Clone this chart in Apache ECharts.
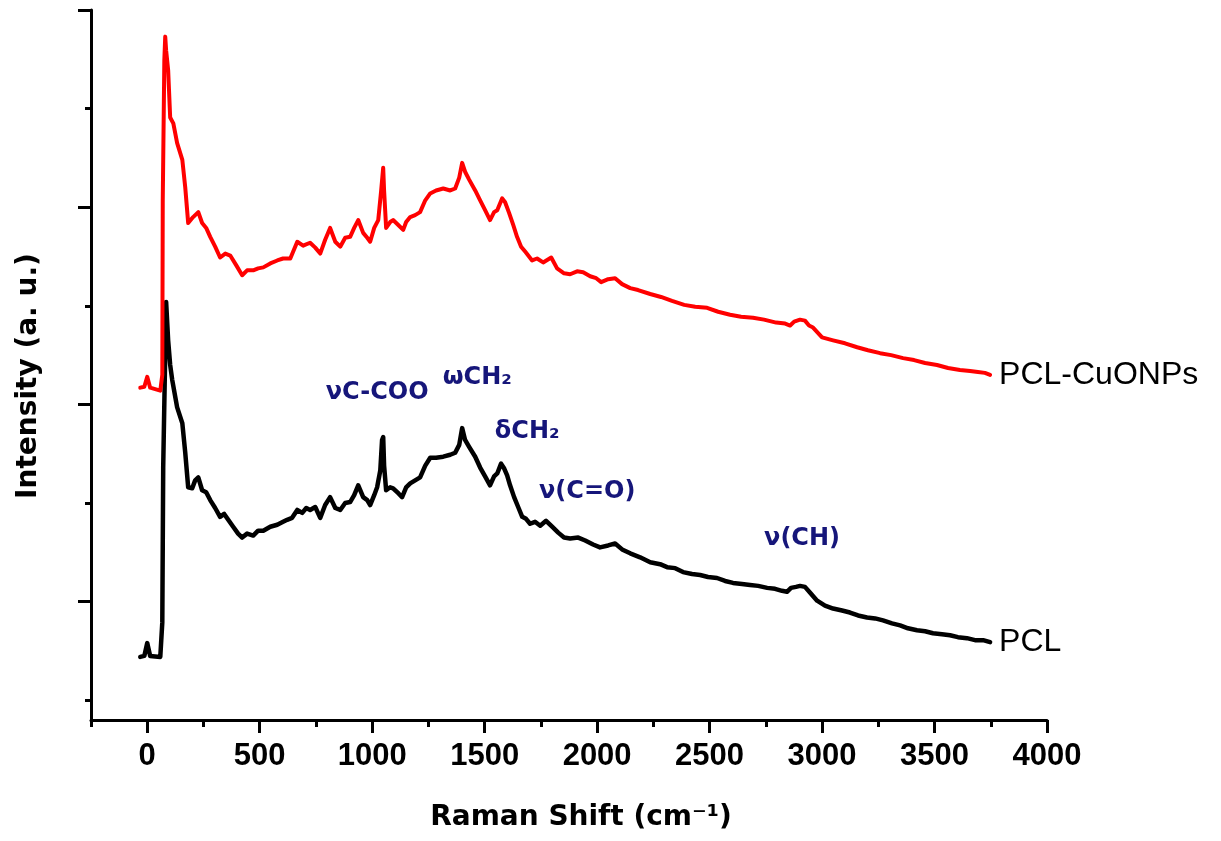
<!DOCTYPE html>
<html>
<head>
<meta charset="utf-8">
<title>Raman spectra PCL / PCL-CuONPs</title>
<script src="https://cdn.jsdelivr.net/npm/echarts@6/dist/echarts.min.js"></script>
<style>
  html, body { margin: 0; padding: 0; background: #fff; }
  #chart { width: 1221px; height: 841px; }
</style>
</head>
<body>
<div id="chart"></div>
<script>
// Raman shift (cm-1) and intensity (a.u., offset)
const pclShift = [-31, -13, 0, 13, 58, 67, 71, 84, 93, 102, 111, 133, 156, 169, 182, 200, 213, 227, 244, 262,
  280, 302, 324, 342, 360, 382, 404, 422, 444, 471, 493, 516, 547, 578, 604, 622, 644, 667, 689, 707,
  724, 747, 769, 791, 813, 836, 858, 880, 902, 920, 938, 960, 978, 991, 1009, 1022, 1036, 1044, 1049, 1053,
  1062, 1080, 1093, 1116, 1133, 1151, 1169, 1191, 1213, 1236, 1258, 1284, 1316, 1347, 1369, 1387, 1400, 1413, 1431, 1458,
  1480, 1502, 1524, 1542, 1556, 1573, 1587, 1600, 1613, 1631, 1649, 1667, 1684, 1702, 1724, 1747, 1773, 1800, 1827, 1853,
  1880, 1916, 1947, 1982, 2013, 2049, 2080, 2111, 2147, 2191, 2236, 2280, 2311, 2347, 2382, 2422, 2458, 2493, 2533, 2569,
  2604, 2644, 2680, 2716, 2756, 2791, 2822, 2844, 2862, 2884, 2902, 2924, 2947, 2978, 3013, 3049, 3089, 3124, 3160, 3200,
  3236, 3271, 3311, 3347, 3382, 3422, 3458, 3493, 3533, 3569, 3604, 3644, 3680, 3716, 3747];
const pclInt = [0.44, 0.45, 0.58, 0.45, 0.44, 0.79, 2.36, 4.04, 3.65, 3.40, 3.25, 2.97, 2.81, 2.51, 2.16, 2.15, 2.23, 2.26, 2.13, 2.11,
  2.03, 1.95, 1.86, 1.89, 1.83, 1.76, 1.69, 1.65, 1.69, 1.67, 1.72, 1.72, 1.76, 1.78, 1.81, 1.83, 1.85, 1.93, 1.90, 1.95,
  1.93, 1.96, 1.85, 1.98, 2.06, 1.95, 1.93, 2.00, 2.01, 2.08, 2.18, 2.06, 2.03, 1.98, 2.08, 2.16, 2.33, 2.64, 2.67, 2.38,
  2.13, 2.16, 2.15, 2.10, 2.06, 2.16, 2.20, 2.23, 2.26, 2.38, 2.46, 2.46, 2.47, 2.49, 2.51, 2.59, 2.76, 2.64, 2.57, 2.47,
  2.36, 2.27, 2.18, 2.27, 2.30, 2.40, 2.35, 2.28, 2.18, 2.06, 1.96, 1.86, 1.84, 1.79, 1.81, 1.77, 1.82, 1.76, 1.70, 1.65,
  1.64, 1.65, 1.62, 1.58, 1.55, 1.57, 1.59, 1.53, 1.49, 1.45, 1.40, 1.38, 1.35, 1.34, 1.30, 1.28, 1.27, 1.25, 1.24, 1.21,
  1.19, 1.18, 1.17, 1.16, 1.14, 1.13, 1.11, 1.10, 1.14, 1.15, 1.16, 1.15, 1.09, 1.01, 0.96, 0.93, 0.91, 0.89, 0.86, 0.84,
  0.83, 0.81, 0.78, 0.76, 0.73, 0.71, 0.70, 0.68, 0.67, 0.66, 0.64, 0.63, 0.61, 0.61, 0.59];

const cuoShift = [-31, -13, 0, 13, 58, 67, 69, 76, 80, 84, 93, 102, 116, 133, 156, 169, 182, 204, 227, 244,
  262, 280, 302, 324, 347, 369, 396, 422, 444, 471, 493, 516, 547, 578, 604, 636, 667, 693, 724, 747,
  769, 791, 813, 836, 858, 880, 902, 920, 938, 960, 978, 991, 1009, 1027, 1040, 1049, 1053, 1062, 1080, 1093,
  1116, 1138, 1151, 1169, 1191, 1213, 1236, 1258, 1284, 1316, 1347, 1369, 1387, 1400, 1413, 1431, 1458, 1480, 1502, 1524,
  1542, 1556, 1578, 1591, 1609, 1627, 1644, 1662, 1680, 1711, 1733, 1760, 1796, 1822, 1853, 1880, 1911, 1938, 1969, 1996,
  2018, 2049, 2080, 2111, 2147, 2182, 2236, 2284, 2333, 2387, 2436, 2489, 2538, 2591, 2640, 2693, 2742, 2796, 2836, 2858,
  2876, 2902, 2924, 2942, 2960, 3000, 3049, 3102, 3156, 3204, 3258, 3307, 3360, 3409, 3458, 3511, 3560, 3613, 3658, 3693,
  3724, 3747];
const cuoInt = [3.17, 3.18, 3.28, 3.17, 3.14, 3.30, 5.07, 6.49, 6.73, 6.59, 6.39, 5.91, 5.85, 5.65, 5.48, 5.20, 4.84, 4.90, 4.95, 4.84,
  4.79, 4.70, 4.60, 4.49, 4.53, 4.51, 4.41, 4.31, 4.36, 4.36, 4.38, 4.39, 4.43, 4.46, 4.48, 4.48, 4.65, 4.61, 4.64, 4.59,
  4.53, 4.67, 4.79, 4.65, 4.60, 4.69, 4.70, 4.79, 4.87, 4.74, 4.69, 4.65, 4.79, 4.87, 5.17, 5.40, 5.17, 4.79, 4.85, 4.87,
  4.82, 4.77, 4.85, 4.90, 4.92, 4.95, 5.07, 5.14, 5.17, 5.19, 5.17, 5.19, 5.30, 5.45, 5.36, 5.28, 5.17, 5.07, 4.97, 4.87,
  4.95, 4.97, 5.09, 5.05, 4.94, 4.82, 4.70, 4.60, 4.55, 4.46, 4.48, 4.44, 4.49, 4.38, 4.33, 4.32, 4.35, 4.34, 4.30, 4.28,
  4.24, 4.27, 4.28, 4.22, 4.18, 4.16, 4.12, 4.09, 4.05, 4.01, 3.99, 3.98, 3.94, 3.91, 3.89, 3.88, 3.86, 3.83, 3.82, 3.80,
  3.84, 3.86, 3.85, 3.80, 3.78, 3.68, 3.65, 3.62, 3.58, 3.55, 3.52, 3.50, 3.47, 3.45, 3.42, 3.40, 3.37, 3.35, 3.34, 3.33,
  3.32, 3.30];

// band assignments written on the plot
const bandText = ['νC-COO', 'ωCH₂', 'δCH₂', 'ν(C=O)', 'ν(CH)'];
const bandShift = [1022, 1467, 1689, 1956, 2911];
const bandInt = [3.12, 3.27, 2.72, 2.11, 1.64];

const xMajor = [0, 500, 1000, 1500, 2000, 2500, 3000, 3500, 4000];
const xMinor = [-250, 250, 750, 1250, 1750, 2250, 2750, 3250, 3750];
const yMajor = [1, 3, 5, 7];
const yMinor = [0, 2, 4, 6];

const zip = (xs, ys) => xs.map((x, i) => [x, ys[i]]);

const chart = echarts.init(document.getElementById('chart'));

const axisLine = { show: true, onZero: false, lineStyle: { color: '#000', width: 3 } };
const titleFont = { fontFamily: 'DejaVu Sans', fontWeight: 'bold', fontSize: 28, color: '#000' };

const option = {
  animation: false,
  backgroundColor: '#fff',
  grid: { left: 91, right: 174, top: 10, bottom: 121 },
  xAxis: [
    {
      type: 'value', min: -250, max: 4000, interval: 250,
      name: 'Raman Shift (cm⁻¹)', nameLocation: 'middle', nameGap: 84,
      nameTextStyle: Object.assign({}, titleFont, { padding: [0, 0, 0, 24] }),
      axisLine: axisLine,
      axisTick: { show: true, customValues: xMajor, length: 13, lineStyle: { color: '#000', width: 3 } },
      axisLabel: {
        customValues: xMajor, margin: 21, color: '#000',
        formatter: v => String(v),
        fontFamily: 'Liberation Sans', fontWeight: 'bold', fontSize: 31
      },
      splitLine: { show: false }
    },
    {
      type: 'value', min: -250, max: 4000, interval: 250, position: 'bottom',
      axisLine: { show: false, onZero: false },
      axisTick: { show: true, customValues: xMinor, length: 7, lineStyle: { color: '#000', width: 3 } },
      axisLabel: { show: false },
      splitLine: { show: false }
    }
  ],
  yAxis: [
    {
      type: 'value', min: -0.2, max: 7,
      name: 'Intensity (a. u.)', nameLocation: 'middle', nameGap: 48, nameRotate: 90,
      nameTextStyle: Object.assign({}, titleFont, { padding: [0, 22, 0, 0] }),
      axisLine: axisLine,
      axisTick: { show: true, customValues: yMajor, length: 13, lineStyle: { color: '#000', width: 3 } },
      axisLabel: { show: false },
      splitLine: { show: false }
    },
    {
      type: 'value', min: -0.2, max: 7, position: 'left',
      axisLine: { show: false, onZero: false },
      axisTick: { show: true, customValues: yMinor, length: 6, lineStyle: { color: '#000', width: 3 } },
      axisLabel: { show: false },
      splitLine: { show: false }
    }
  ],
  series: [
    {
      name: 'PCL', type: 'line', data: zip(pclShift, pclInt),
      showSymbol: false, silent: true,
      lineStyle: { color: '#000', width: 4.5, join: 'round', cap: 'round' }, itemStyle: { color: '#000' },
      endLabel: {
        show: true, formatter: '{a}', distance: 9, color: '#000',
        fontFamily: 'Liberation Sans', fontSize: 32
      }
    },
    {
      name: 'PCL-CuONPs', type: 'line', data: zip(cuoShift, cuoInt),
      showSymbol: false, silent: true,
      lineStyle: { color: '#ff0000', width: 4, join: 'round', cap: 'round' }, itemStyle: { color: '#ff0000' },
      endLabel: {
        show: true, formatter: '{a}', distance: 9, color: '#000',
        fontFamily: 'Liberation Sans', fontSize: 32
      }
    },
    {
      name: 'bands', type: 'scatter', symbolSize: 0, silent: true,
      itemStyle: { opacity: 1 },
      data: bandText.map((t, i) => ({ name: t, value: [bandShift[i], bandInt[i]] })),
      label: {
        show: true, position: 'inside', formatter: '{b}', opacity: 1,
        color: '#16167a', fontFamily: 'DejaVu Sans', fontWeight: 'bold', fontSize: 24
      }
    }
  ]
};

chart.setOption(option);
</script>
</body>
</html>
